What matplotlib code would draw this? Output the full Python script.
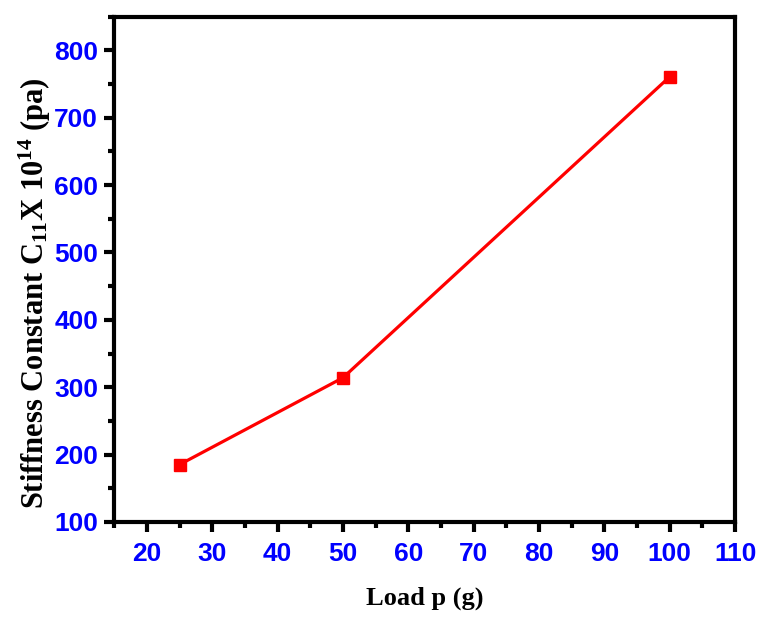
import matplotlib
matplotlib.use("Agg")
import matplotlib.pyplot as plt
from matplotlib.ticker import MultipleLocator

# data
load_g = [25, 50, 100]
stiffness_c11 = [185, 314, 761]

plt.rcParams['font.family'] = 'Liberation Serif'
plt.rcParams['font.weight'] = 'bold'
plt.rcParams['mathtext.default'] = 'regular'

fig = plt.figure(figsize=(7.61, 6.22), dpi=100)
ax = fig.add_axes([0.150, 0.161, 0.816, 0.812])

ax.plot(load_g, stiffness_c11, color='red', linewidth=2.3,
        marker='s', markersize=8, markeredgecolor='red')

ax.set_xlim(15, 110)
ax.set_ylim(100, 850)
ax.xaxis.set_major_locator(MultipleLocator(10))
ax.xaxis.set_minor_locator(MultipleLocator(5))
ax.yaxis.set_major_locator(MultipleLocator(100))
ax.yaxis.set_minor_locator(MultipleLocator(50))

for s in ax.spines.values():
    s.set_linewidth(3)

ax.tick_params(which='major', direction='out', length=7.5, width=3,
               colors='black', labelcolor='blue', labelsize=19)
ax.tick_params(axis='x', which='major', pad=7)
ax.tick_params(axis='y', which='major', pad=4)
ax.tick_params(which='minor', direction='out', length=4, width=3)
for lab in ax.get_xticklabels() + ax.get_yticklabels():
    lab.set_fontfamily('Liberation Sans')
    lab.set_fontweight('bold')

ax.set_xlabel('Load p (g)', fontsize=19, fontweight='bold', labelpad=15)
ax.set_ylabel('Stiffness Constant C$_{11}$X 10$^{14}$ (pa)', fontsize=22,
              fontweight='bold')
ax.yaxis.set_label_coords(-0.098, 0.453)

fig.savefig('out.png', dpi=100)
